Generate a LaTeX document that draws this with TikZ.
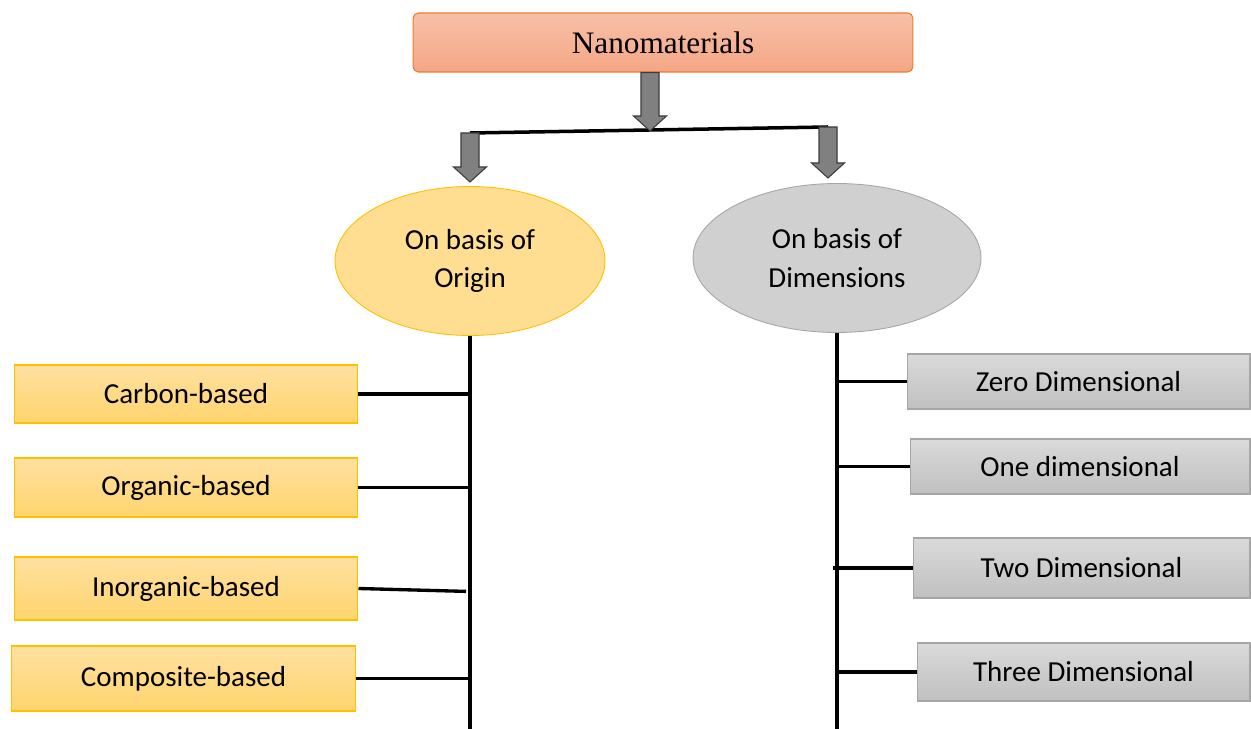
\documentclass[tikz,border=0pt]{standalone}
\usepackage{fontspec}
\setmainfont{Carlito}
\newfontfamily\timesfont{Liberation Serif}
\usetikzlibrary{calc, shapes.geometric}
\definecolor{salmonTop}{RGB}{247,192,168}
\definecolor{salmonBot}{RGB}{244,166,133}
\definecolor{salmonLine}{RGB}{237,125,49}
\definecolor{goldTop}{RGB}{255,224,160}
\definecolor{goldBot}{RGB}{255,213,110}
\definecolor{goldLine}{RGB}{255,192,0}
\definecolor{greyTop}{RGB}{218,218,218}
\definecolor{greyBot}{RGB}{192,192,192}
\definecolor{greyLine}{RGB}{166,166,166}
\definecolor{arrowFill}{RGB}{128,128,128}
\definecolor{arrowLine}{RGB}{60,60,60}

% fat block arrow pointing down from #1 to #2
\newcommand{\fatarrow}[2]{%
  \path[fatarr] let \p1=(#1), \p2=(#2) in
    (\x1-0.18cm,\y1) -- (\x1-0.18cm,\y2+0.3cm) -- (\x1-0.33cm,\y2+0.3cm)
    -- (\x1,\y2) -- (\x1+0.33cm,\y2+0.3cm) -- (\x1+0.18cm,\y2+0.3cm)
    -- (\x1+0.18cm,\y1) -- cycle;}

\begin{document}
\begin{tikzpicture}[x=0.02cm, y=-0.02cm,
    base/.style={align=center, inner sep=0pt, font=\fontsize{16.5}{22}\selectfont},
    head/.style={base, rounded corners=3pt, draw=salmonLine, line width=0.6pt,
                 top color=salmonTop, bottom color=salmonBot,
                 minimum width=10cm, minimum height=1.18cm,
                 font=\timesfont\fontsize{17.8}{20}\selectfont},
    oval/.style={base, ellipse, minimum height=2.98cm},
    origin/.style={oval, draw=goldLine, line width=0.5pt, fill=goldTop!70!goldBot,
                   minimum width=5.4cm},
    dimen/.style={oval, draw=greyLine, line width=0.5pt, fill=greyTop!60!greyBot,
                  minimum width=5.76cm},
    leaf/.style={base, draw=goldLine, line width=0.6pt,
                 top color=goldTop, bottom color=goldBot, minimum width=6.88cm},
    dleaf/.style={base, draw=greyLine, line width=0.6pt,
                  top color=greyTop, bottom color=greyBot},
    trunk/.style={line width=2pt, draw=black},
    twig/.style={line width=1.9pt, draw=black},
    fatarr/.style={fill=arrowFill, draw=arrowLine, line width=0.6pt}]

    \useasboundingbox (0,0) rectangle (1251,729);
    \coordinate (bottom) at (0,729);

    % top
    \node[head] (nano) at (663,42.5) {Nanomaterials};
    \coordinate (split) at (650,131);
    \coordinate (hubL)  at (470,133);
    \coordinate (hubR)  at (828,127);

    % two bases
    \node[origin] (orig) at (470,261) {On basis of\\Origin};
    \node[dimen]  (dim)  at (837,258) {On basis of\\Dimensions};
    \coordinate (tipL) at (470,182);
    \coordinate (tipR) at (828,178);

    \draw[trunk] (hubL) -- (hubR);
    \fatarrow{nano.south -| split}{split}
    \fatarrow{hubL}{tipL}
    \fatarrow{hubR}{tipR}

    % origin branch
    \node[leaf, minimum height=1.16cm] (carbon)  at (186,394)   {Carbon-based};
    \node[leaf, minimum height=1.18cm] (organic) at (186,487.5) {Organic-based};
    \node[leaf, minimum height=1.26cm] (inorg)   at (186,588.5) {Inorganic-based};
    \node[leaf, minimum height=1.30cm] (compo)   at (183.5,678.5) {Composite-based};
    \draw[trunk] (orig.south) -- (orig.south |- bottom);
    \draw[twig] (carbon.east) -- (carbon.east -| orig.south);
    \draw[twig] (organic.east) -- (organic.east -| orig.south);
    \draw[twig, shorten >=0.08cm] (inorg.east) -- ($(inorg.east -| orig.south)+(0,3)$);
    \draw[twig] (compo.east) -- (compo.east -| orig.south);

    % dimension branch
    \node[dleaf, minimum width=6.86cm, minimum height=1.10cm] (zero)  at (1078.5,381.5) {Zero Dimensional};
    \node[dleaf, minimum width=6.80cm, minimum height=1.10cm] (one)   at (1080,466.5)   {One dimensional};
    \node[dleaf, minimum width=6.74cm, minimum height=1.20cm] (two)   at (1081.5,568)   {Two Dimensional};
    \node[dleaf, minimum width=6.66cm, minimum height=1.16cm] (three) at (1083.5,672)   {Three Dimensional};
    \draw[trunk] (dim.south) -- (dim.south |- bottom);
    \draw[twig] (zero.west) -- (zero.west -| dim.south);
    \draw[twig] (one.west) -- (one.west -| dim.south);
    \draw[twig, shorten >=-0.08cm] (two.west) -- (two.west -| dim.south);
    \draw[twig] (three.west) -- (three.west -| dim.south);
\end{tikzpicture}
\end{document}
